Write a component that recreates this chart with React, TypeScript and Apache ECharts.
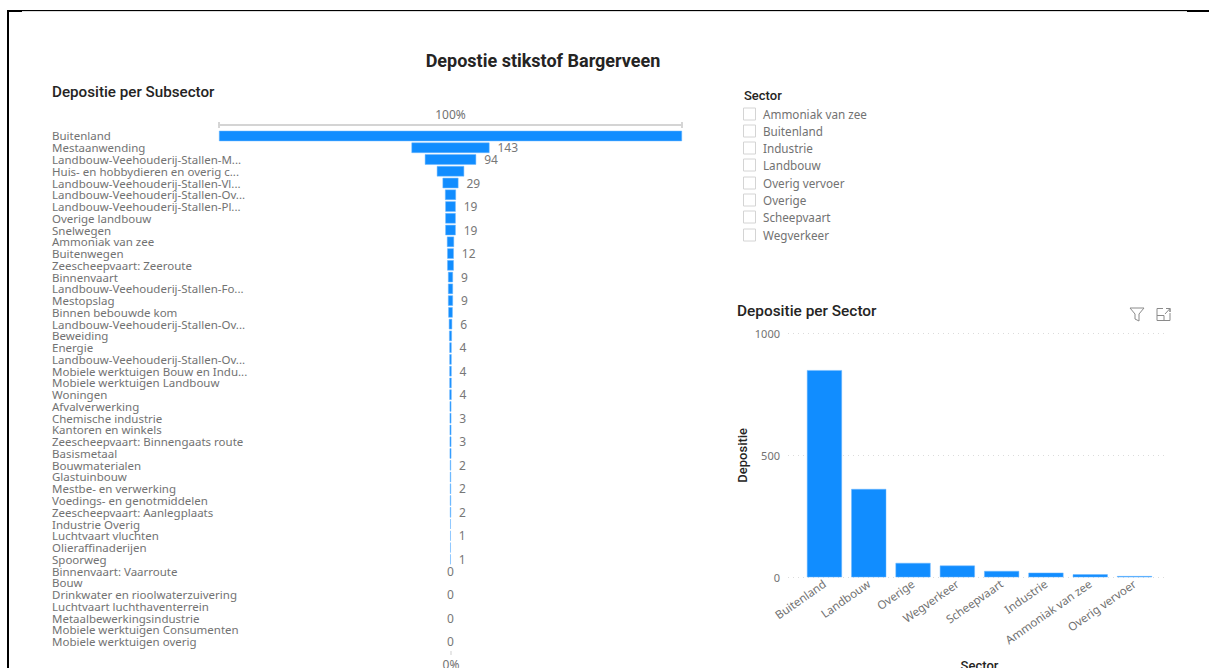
import React, { useEffect, useRef } from "react";
import * as echarts from "echarts";

const BLUE = "#118dff";
const BAR_EDGE = "#6fb8ff";
const LABEL_GREY = "#727272";
const TITLE_INK = "#252423";
const BODY_FONT = "'Noto Sans', sans-serif";
const HEAD_FONT = "Roboto, sans-serif";

const subsectors = [
  "Buitenland",
  "Mestaanwending",
  "Landbouw-Veehouderij-Stallen-M...",
  "Huis- en hobbydieren en overig c...",
  "Landbouw-Veehouderij-Stallen-Vl...",
  "Landbouw-Veehouderij-Stallen-Ov...",
  "Landbouw-Veehouderij-Stallen-Pl...",
  "Overige landbouw",
  "Snelwegen",
  "Ammoniak van zee",
  "Buitenwegen",
  "Zeescheepvaart: Zeeroute",
  "Binnenvaart",
  "Landbouw-Veehouderij-Stallen-Fo...",
  "Mestopslag",
  "Binnen bebouwde kom",
  "Landbouw-Veehouderij-Stallen-Ov...",
  "Beweiding",
  "Energie",
  "Landbouw-Veehouderij-Stallen-Ov...",
  "Mobiele werktuigen Bouw en Indu...",
  "Mobiele werktuigen Landbouw",
  "Woningen",
  "Afvalverwerking",
  "Chemische industrie",
  "Kantoren en winkels",
  "Zeescheepvaart: Binnengaats route",
  "Basismetaal",
  "Bouwmaterialen",
  "Glastuinbouw",
  "Mestbe- en verwerking",
  "Voedings- en genotmiddelen",
  "Zeescheepvaart: Aanlegplaats",
  "Industrie Overig",
  "Luchtvaart vluchten",
  "Olieraffinaderijen",
  "Spoorweg",
  "Binnenvaart: Vaarroute",
  "Bouw",
  "Drinkwater en rioolwaterzuivering",
  "Luchtvaart luchthaventerrein",
  "Metaalbewerkingsindustrie",
  "Mobiele werktuigen Consumenten",
  "Mobiele werktuigen overig",
];

const subsectorValues = [
  849, 143, 94, 50, 29, 20, 19, 19, 19, 13, 12, 12, 9, 9, 9, 8, 6, 5, 4, 4, 4, 4,
  4, 3, 3, 3, 3, 3, 2, 2, 2, 2, 2, 1, 1, 1, 1, 0, 0, 0, 0, 0, 0, 0,
];

// Rows whose value is printed next to the funnel bar.
const labelledRows = [
  1, 2, 4, 6, 8, 10, 12, 14, 16, 18, 20, 22, 24, 26, 28, 30, 32, 34, 36, 37, 39, 41, 43,
];

const sectors = [
  "Buitenland",
  "Landbouw",
  "Overige",
  "Wegverkeer",
  "Scheepvaart",
  "Industrie",
  "Ammoniak van zee",
  "Overig vervoer",
];
const sectorValues = [849, 362, 59, 48, 26, 19, 12, 5];
const sectorTicks = [0, 500, 1000];

const slicerOptions = [
  "Ammoniak van zee",
  "Buitenland",
  "Industrie",
  "Landbouw",
  "Overig vervoer",
  "Overige",
  "Scheepvaart",
  "Wegverkeer",
];
const slicerRowY = [114, 131, 148, 165, 183, 200, 217, 235];

const funnelMax = Math.max(...subsectorValues);

function buildOption() {
  const slicerGraphics = slicerOptions.flatMap((name, i) => [
    {
      type: "rect",
      shape: { x: 743.5, y: slicerRowY[i] - 6, width: 12, height: 12 },
      style: { fill: "#fff", stroke: "#d4d4d4", lineWidth: 1 },
    },
    {
      type: "text",
      x: 763,
      y: slicerRowY[i],
      style: { text: name, fill: LABEL_GREY, font: `11.7px ${BODY_FONT}`, verticalAlign: "middle" },
    },
  ]);

  const heading = (text: string, x: number, y: number, font: string, align = "left") => ({
    type: "text",
    x,
    y,
    style: { text, fill: TITLE_INK, font, align, verticalAlign: "middle" },
  });

  const funnelEndTick = (x: number) => ({
    type: "line",
    shape: { x1: x, y1: 122, x2: x, y2: 128 },
    style: { stroke: "#c8c8c8", lineWidth: 1.5 },
  });

  return {
    animation: false,
    backgroundColor: "#fff",
    grid: [
      { left: 219, width: 463, top: 130.1, height: 517.4, outerBoundsMode: "none" },
      { left: 788, width: 380, top: 333.3, height: 244, outerBoundsMode: "none" },
      { left: 802.3, width: 354.4, top: 333.3, height: 244, outerBoundsMode: "none" },
    ],
    xAxis: [
      {
        type: "value",
        gridIndex: 0,
        position: "top",
        min: 0,
        max: funnelMax,
        interval: funnelMax,
        offset: 5,
        name: "100%",
        nameLocation: "middle",
        nameGap: 5,
        nameTextStyle: { color: LABEL_GREY, fontFamily: BODY_FONT, fontSize: 12 },
        axisLine: { show: true, lineStyle: { color: "#d4d4d4", width: 2 } },
        axisTick: { show: false },
        axisLabel: { show: false },
        splitLine: { show: false },
      },
      { type: "category", gridIndex: 1, data: sectors, show: false },
      {
        type: "category",
        gridIndex: 2,
        data: sectors,
        name: "Sector",
        nameLocation: "middle",
        nameGap: 82,
        nameTextStyle: { color: TITLE_INK, fontFamily: HEAD_FONT, fontSize: 13, fontWeight: 500 },
        axisLine: { show: false },
        axisTick: { show: false },
        axisLabel: {
          rotate: 35,
          interval: 0,
          margin: 5,
          color: LABEL_GREY,
          fontFamily: BODY_FONT,
          fontSize: 11.5,
        },
      },
    ],
    yAxis: [
      {
        type: "category",
        gridIndex: 0,
        inverse: true,
        data: subsectors,
        axisLine: { show: false },
        axisTick: { show: false },
        axisLabel: {
          interval: 0,
          align: "left",
          margin: 167,
          color: LABEL_GREY,
          fontFamily: BODY_FONT,
          fontSize: 11.5,
          lineHeight: 11,
          padding: [0, 0, 3, 0],
        },
      },
      {
        type: "value",
        gridIndex: 1,
        min: sectorTicks[0],
        max: sectorTicks[2],
        interval: sectorTicks[1],
        name: "Depositie",
        nameLocation: "middle",
        nameGap: 39,
        nameTextStyle: { color: TITLE_INK, fontFamily: HEAD_FONT, fontSize: 13, fontWeight: 500 },
        axisLine: { show: false },
        axisTick: { show: false },
        axisLabel: {
          margin: 8,
          color: LABEL_GREY,
          fontFamily: BODY_FONT,
          fontSize: 11,
          formatter: (v: number) => String(v),
        },
        splitLine: { show: true, lineStyle: { color: "#dcdcdc", type: [1, 4], width: 1 } },
      },
      {
        type: "value",
        gridIndex: 2,
        min: sectorTicks[0],
        max: sectorTicks[2],
        show: false,
      },
    ],
    series: [
      {
        // Transparent spacer that centres each funnel bar on the axis.
        name: "spacer",
        type: "bar",
        xAxisIndex: 0,
        yAxisIndex: 0,
        stack: "funnel",
        barWidth: 10.4,
        silent: true,
        itemStyle: { color: "transparent" },
        data: subsectorValues.map((v) => (funnelMax - v) / 2),
      },
      {
        name: "Depositie per Subsector",
        type: "bar",
        xAxisIndex: 0,
        yAxisIndex: 0,
        stack: "funnel",
        barWidth: 10.4,
        itemStyle: { color: BLUE, borderColor: BAR_EDGE, borderWidth: 0.5 },
        data: subsectorValues.map((v, i) => ({
          value: v,
          itemStyle: v === 0 ? { borderWidth: 0 } : undefined,
          label: {
            show: labelledRows.includes(i),
            position: v === 0 ? "inside" : "right",
            distance: 8,
            color: "#777",
            fontFamily: BODY_FONT,
            fontSize: 12,
          },
        })),
      },
      {
        name: "Depositie per Sector",
        type: "bar",
        xAxisIndex: 2,
        yAxisIndex: 2,
        barWidth: 35,
        itemStyle: { color: BLUE, borderColor: BAR_EDGE, borderWidth: 0.5 },
        data: sectorValues,
      },
    ],
    graphic: [
      // Report page frame
      { type: "rect", shape: { x: 7, y: 10, width: 2, height: 658 }, style: { fill: "#000" } },
      { type: "rect", shape: { x: 7, y: 10, width: 15, height: 2 }, style: { fill: "#000" } },
      { type: "rect", shape: { x: 22, y: 10, width: 1165, height: 1 }, style: { fill: "#000" } },
      { type: "rect", shape: { x: 22, y: 11, width: 1165, height: 1 }, style: { fill: "#dcdcdc" } },
      { type: "rect", shape: { x: 1187, y: 10, width: 22, height: 2 }, style: { fill: "#000" } },

      heading("Depostie stikstof Bargerveen", 543, 60, `700 18px ${HEAD_FONT}`, "center"),
      heading("Depositie per Subsector", 52, 92, `500 15.2px ${HEAD_FONT}`),
      heading("Sector", 744, 95, `500 13px ${HEAD_FONT}`),
      heading("Depositie per Sector", 737, 311, `500 15.4px ${HEAD_FONT}`),

      funnelEndTick(219),
      funnelEndTick(682),

      // Funnel baseline marker
      {
        type: "line",
        shape: { x1: 451, y1: 651, x2: 451, y2: 655 },
        style: { stroke: "#cfcfcf", lineWidth: 1 },
      },
      {
        type: "text",
        x: 451,
        y: 664,
        style: { text: "0%", fill: LABEL_GREY, font: `12px ${BODY_FONT}`, align: "center", verticalAlign: "middle" },
      },

      ...slicerGraphics,

      // Visual header icons: filter and focus mode
      {
        type: "polygon",
        shape: { points: [[1130, 308], [1144, 308], [1139, 314], [1139, 321], [1135, 319], [1135, 314]] },
        style: { fill: "none", stroke: "#8a8a8a", lineWidth: 1 },
      },
      {
        type: "polyline",
        shape: { points: [[1163, 308.5], [1157, 308.5], [1157, 320.5], [1170, 320.5], [1170, 313]] },
        style: { fill: "none", stroke: "#8a8a8a", lineWidth: 1 },
      },
      {
        type: "polyline",
        shape: { points: [[1157, 315.5], [1164, 315.5], [1164, 320.5]] },
        style: { fill: "none", stroke: "#8a8a8a", lineWidth: 1 },
      },
      {
        type: "polyline",
        shape: { points: [[1166, 308.5], [1170, 308.5], [1170, 312], [1170, 308.5], [1165, 314]] },
        style: { fill: "none", stroke: "#8a8a8a", lineWidth: 1 },
      },
    ],
  };
}

export default function App() {
  const ref = useRef<HTMLDivElement>(null);

  useEffect(() => {
    document.body.style.margin = "0";
    const chart = echarts.init(ref.current!, undefined, { renderer: "svg" });
    chart.setOption(buildOption() as any);
    return () => chart.dispose();
  }, []);

  return <div ref={ref} style={{ width: 1209, height: 668, overflow: "hidden" }} />;
}
